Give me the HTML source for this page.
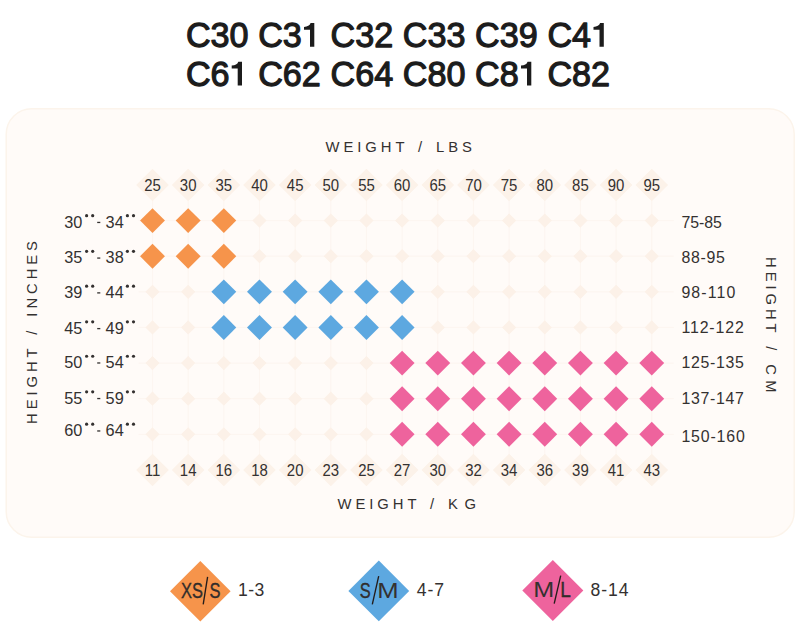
<!DOCTYPE html>
<html><head><meta charset="utf-8"><title>Size chart</title>
<style>
html,body{margin:0;padding:0;background:#fff;}
body{width:800px;height:622px;overflow:hidden;font-family:"Liberation Sans",sans-serif;}
svg{display:block;}
text{font-family:"Liberation Sans",sans-serif;fill:#343130;}
.t{font-size:35.5px;fill:#1c1c1c;stroke:#1c1c1c;stroke-width:1.25px;stroke-linejoin:round;}
.ax{font-size:14.8px;letter-spacing:3.95px;word-spacing:1.9px;}
.cn{font-size:16.8px;text-anchor:middle;}
.rl{font-size:16.3px;}
.rr{font-size:17.1px;}
.lg2{font-size:22.3px;stroke:#241c1a;stroke-width:0.25px;}
.ln{font-size:17.6px;letter-spacing:0.4px;}
</style></head><body>
<svg width="800" height="622" viewBox="0 0 800 622">
<text class="t" transform="translate(185.90,47.3) scale(0.962,1)">C30</text>
<text class="t" transform="translate(258.20,47.3) scale(0.962,1)">C3</text>
<path fill="#1c1c1c" d="M314.30 23.10V46.70H310.00V29.80H304.00V27.00Q309.30 26.80 310.60 23.10Z"/>
<text class="t" transform="translate(330.50,47.3) scale(0.962,1)">C32</text>
<text class="t" transform="translate(402.80,47.3) scale(0.962,1)">C33</text>
<text class="t" transform="translate(475.10,47.3) scale(0.962,1)">C39</text>
<text class="t" transform="translate(547.40,47.3) scale(0.962,1)">C4</text>
<path fill="#1c1c1c" d="M603.80 23.10V46.70H599.50V29.80H593.50V27.00Q598.80 26.80 600.10 23.10Z"/>
<text class="t" transform="translate(185.90,85.8) scale(0.962,1)">C6</text>
<path fill="#1c1c1c" d="M242.00 61.70V85.50H237.70V68.40H231.70V65.60Q237.00 65.40 238.30 61.70Z"/>
<text class="t" transform="translate(258.20,85.8) scale(0.962,1)">C62</text>
<text class="t" transform="translate(330.50,85.8) scale(0.962,1)">C64</text>
<text class="t" transform="translate(402.80,85.8) scale(0.962,1)">C80</text>
<text class="t" transform="translate(475.10,85.8) scale(0.962,1)">C8</text>
<path fill="#1c1c1c" d="M531.30 61.70V85.50H527.00V68.40H521.00V65.60Q526.30 65.40 527.60 61.70Z"/>
<text class="t" transform="translate(547.40,85.8) scale(0.962,1)">C82</text>
<rect x="6.2" y="108.8" width="788" height="428.4" rx="25.5" ry="25.5" fill="#fffbf8" stroke="#fcf4eb" stroke-width="1.5"/>
<defs><filter id="bl" x="-5%" y="-5%" width="110%" height="110%"><feGaussianBlur stdDeviation="0.7"/></filter></defs><g filter="url(#bl)">
<path d="M138.50 220.60H673.74M138.50 256.22H673.74M138.50 291.84H673.74M138.50 327.46H673.74M138.50 363.08H673.74M138.50 398.70H673.74M138.50 434.32H673.74M152.50 184.98V469.94M188.16 184.98V469.94M223.82 184.98V469.94M259.48 184.98V469.94M295.14 184.98V469.94M330.80 184.98V469.94M366.46 184.98V469.94M402.12 184.98V469.94M437.78 184.98V469.94M473.44 184.98V469.94M509.10 184.98V469.94M544.76 184.98V469.94M580.42 184.98V469.94M616.08 184.98V469.94M651.74 184.98V469.94" stroke="#fdf6f1" stroke-width="1.2" fill="none"/>
<path d="M152.50 168.68L168.80 184.98L152.50 201.28L136.20 184.98Z" fill="#fcf2e9"/>
<path d="M152.50 453.64L168.80 469.94L152.50 486.24L136.20 469.94Z" fill="#fcf2e9"/>
<path d="M188.16 168.68L204.46 184.98L188.16 201.28L171.86 184.98Z" fill="#fcf2e9"/>
<path d="M188.16 453.64L204.46 469.94L188.16 486.24L171.86 469.94Z" fill="#fcf2e9"/>
<path d="M223.82 168.68L240.12 184.98L223.82 201.28L207.52 184.98Z" fill="#fcf2e9"/>
<path d="M223.82 453.64L240.12 469.94L223.82 486.24L207.52 469.94Z" fill="#fcf2e9"/>
<path d="M259.48 168.68L275.78 184.98L259.48 201.28L243.18 184.98Z" fill="#fcf2e9"/>
<path d="M259.48 453.64L275.78 469.94L259.48 486.24L243.18 469.94Z" fill="#fcf2e9"/>
<path d="M295.14 168.68L311.44 184.98L295.14 201.28L278.84 184.98Z" fill="#fcf2e9"/>
<path d="M295.14 453.64L311.44 469.94L295.14 486.24L278.84 469.94Z" fill="#fcf2e9"/>
<path d="M330.80 168.68L347.10 184.98L330.80 201.28L314.50 184.98Z" fill="#fcf2e9"/>
<path d="M330.80 453.64L347.10 469.94L330.80 486.24L314.50 469.94Z" fill="#fcf2e9"/>
<path d="M366.46 168.68L382.76 184.98L366.46 201.28L350.16 184.98Z" fill="#fcf2e9"/>
<path d="M366.46 453.64L382.76 469.94L366.46 486.24L350.16 469.94Z" fill="#fcf2e9"/>
<path d="M402.12 168.68L418.42 184.98L402.12 201.28L385.82 184.98Z" fill="#fcf2e9"/>
<path d="M402.12 453.64L418.42 469.94L402.12 486.24L385.82 469.94Z" fill="#fcf2e9"/>
<path d="M437.78 168.68L454.08 184.98L437.78 201.28L421.48 184.98Z" fill="#fcf2e9"/>
<path d="M437.78 453.64L454.08 469.94L437.78 486.24L421.48 469.94Z" fill="#fcf2e9"/>
<path d="M473.44 168.68L489.74 184.98L473.44 201.28L457.14 184.98Z" fill="#fcf2e9"/>
<path d="M473.44 453.64L489.74 469.94L473.44 486.24L457.14 469.94Z" fill="#fcf2e9"/>
<path d="M509.10 168.68L525.40 184.98L509.10 201.28L492.80 184.98Z" fill="#fcf2e9"/>
<path d="M509.10 453.64L525.40 469.94L509.10 486.24L492.80 469.94Z" fill="#fcf2e9"/>
<path d="M544.76 168.68L561.06 184.98L544.76 201.28L528.46 184.98Z" fill="#fcf2e9"/>
<path d="M544.76 453.64L561.06 469.94L544.76 486.24L528.46 469.94Z" fill="#fcf2e9"/>
<path d="M580.42 168.68L596.72 184.98L580.42 201.28L564.12 184.98Z" fill="#fcf2e9"/>
<path d="M580.42 453.64L596.72 469.94L580.42 486.24L564.12 469.94Z" fill="#fcf2e9"/>
<path d="M616.08 168.68L632.38 184.98L616.08 201.28L599.78 184.98Z" fill="#fcf2e9"/>
<path d="M616.08 453.64L632.38 469.94L616.08 486.24L599.78 469.94Z" fill="#fcf2e9"/>
<path d="M651.74 168.68L668.04 184.98L651.74 201.28L635.44 184.98Z" fill="#fcf2e9"/>
<path d="M651.74 453.64L668.04 469.94L651.74 486.24L635.44 469.94Z" fill="#fcf2e9"/>
<path d="M259.48 213.50L266.58 220.60L259.48 227.70L252.38 220.60Z" fill="#fcf1e8"/>
<path d="M295.14 213.50L302.24 220.60L295.14 227.70L288.04 220.60Z" fill="#fcf1e8"/>
<path d="M330.80 213.50L337.90 220.60L330.80 227.70L323.70 220.60Z" fill="#fcf1e8"/>
<path d="M366.46 213.50L373.56 220.60L366.46 227.70L359.36 220.60Z" fill="#fcf1e8"/>
<path d="M402.12 213.50L409.22 220.60L402.12 227.70L395.02 220.60Z" fill="#fcf1e8"/>
<path d="M437.78 213.50L444.88 220.60L437.78 227.70L430.68 220.60Z" fill="#fcf1e8"/>
<path d="M473.44 213.50L480.54 220.60L473.44 227.70L466.34 220.60Z" fill="#fcf1e8"/>
<path d="M509.10 213.50L516.20 220.60L509.10 227.70L502.00 220.60Z" fill="#fcf1e8"/>
<path d="M544.76 213.50L551.86 220.60L544.76 227.70L537.66 220.60Z" fill="#fcf1e8"/>
<path d="M580.42 213.50L587.52 220.60L580.42 227.70L573.32 220.60Z" fill="#fcf1e8"/>
<path d="M616.08 213.50L623.18 220.60L616.08 227.70L608.98 220.60Z" fill="#fcf1e8"/>
<path d="M651.74 213.50L658.84 220.60L651.74 227.70L644.64 220.60Z" fill="#fcf1e8"/>
<path d="M259.48 249.12L266.58 256.22L259.48 263.32L252.38 256.22Z" fill="#fcf1e8"/>
<path d="M295.14 249.12L302.24 256.22L295.14 263.32L288.04 256.22Z" fill="#fcf1e8"/>
<path d="M330.80 249.12L337.90 256.22L330.80 263.32L323.70 256.22Z" fill="#fcf1e8"/>
<path d="M366.46 249.12L373.56 256.22L366.46 263.32L359.36 256.22Z" fill="#fcf1e8"/>
<path d="M402.12 249.12L409.22 256.22L402.12 263.32L395.02 256.22Z" fill="#fcf1e8"/>
<path d="M437.78 249.12L444.88 256.22L437.78 263.32L430.68 256.22Z" fill="#fcf1e8"/>
<path d="M473.44 249.12L480.54 256.22L473.44 263.32L466.34 256.22Z" fill="#fcf1e8"/>
<path d="M509.10 249.12L516.20 256.22L509.10 263.32L502.00 256.22Z" fill="#fcf1e8"/>
<path d="M544.76 249.12L551.86 256.22L544.76 263.32L537.66 256.22Z" fill="#fcf1e8"/>
<path d="M580.42 249.12L587.52 256.22L580.42 263.32L573.32 256.22Z" fill="#fcf1e8"/>
<path d="M616.08 249.12L623.18 256.22L616.08 263.32L608.98 256.22Z" fill="#fcf1e8"/>
<path d="M651.74 249.12L658.84 256.22L651.74 263.32L644.64 256.22Z" fill="#fcf1e8"/>
<path d="M152.50 284.74L159.60 291.84L152.50 298.94L145.40 291.84Z" fill="#fcf1e8"/>
<path d="M188.16 284.74L195.26 291.84L188.16 298.94L181.06 291.84Z" fill="#fcf1e8"/>
<path d="M437.78 284.74L444.88 291.84L437.78 298.94L430.68 291.84Z" fill="#fcf1e8"/>
<path d="M473.44 284.74L480.54 291.84L473.44 298.94L466.34 291.84Z" fill="#fcf1e8"/>
<path d="M509.10 284.74L516.20 291.84L509.10 298.94L502.00 291.84Z" fill="#fcf1e8"/>
<path d="M544.76 284.74L551.86 291.84L544.76 298.94L537.66 291.84Z" fill="#fcf1e8"/>
<path d="M580.42 284.74L587.52 291.84L580.42 298.94L573.32 291.84Z" fill="#fcf1e8"/>
<path d="M616.08 284.74L623.18 291.84L616.08 298.94L608.98 291.84Z" fill="#fcf1e8"/>
<path d="M651.74 284.74L658.84 291.84L651.74 298.94L644.64 291.84Z" fill="#fcf1e8"/>
<path d="M152.50 320.36L159.60 327.46L152.50 334.56L145.40 327.46Z" fill="#fcf1e8"/>
<path d="M188.16 320.36L195.26 327.46L188.16 334.56L181.06 327.46Z" fill="#fcf1e8"/>
<path d="M437.78 320.36L444.88 327.46L437.78 334.56L430.68 327.46Z" fill="#fcf1e8"/>
<path d="M473.44 320.36L480.54 327.46L473.44 334.56L466.34 327.46Z" fill="#fcf1e8"/>
<path d="M509.10 320.36L516.20 327.46L509.10 334.56L502.00 327.46Z" fill="#fcf1e8"/>
<path d="M544.76 320.36L551.86 327.46L544.76 334.56L537.66 327.46Z" fill="#fcf1e8"/>
<path d="M580.42 320.36L587.52 327.46L580.42 334.56L573.32 327.46Z" fill="#fcf1e8"/>
<path d="M616.08 320.36L623.18 327.46L616.08 334.56L608.98 327.46Z" fill="#fcf1e8"/>
<path d="M651.74 320.36L658.84 327.46L651.74 334.56L644.64 327.46Z" fill="#fcf1e8"/>
<path d="M152.50 355.98L159.60 363.08L152.50 370.18L145.40 363.08Z" fill="#fcf1e8"/>
<path d="M188.16 355.98L195.26 363.08L188.16 370.18L181.06 363.08Z" fill="#fcf1e8"/>
<path d="M223.82 355.98L230.92 363.08L223.82 370.18L216.72 363.08Z" fill="#fcf1e8"/>
<path d="M259.48 355.98L266.58 363.08L259.48 370.18L252.38 363.08Z" fill="#fcf1e8"/>
<path d="M295.14 355.98L302.24 363.08L295.14 370.18L288.04 363.08Z" fill="#fcf1e8"/>
<path d="M330.80 355.98L337.90 363.08L330.80 370.18L323.70 363.08Z" fill="#fcf1e8"/>
<path d="M366.46 355.98L373.56 363.08L366.46 370.18L359.36 363.08Z" fill="#fcf1e8"/>
<path d="M152.50 391.60L159.60 398.70L152.50 405.80L145.40 398.70Z" fill="#fcf1e8"/>
<path d="M188.16 391.60L195.26 398.70L188.16 405.80L181.06 398.70Z" fill="#fcf1e8"/>
<path d="M223.82 391.60L230.92 398.70L223.82 405.80L216.72 398.70Z" fill="#fcf1e8"/>
<path d="M259.48 391.60L266.58 398.70L259.48 405.80L252.38 398.70Z" fill="#fcf1e8"/>
<path d="M295.14 391.60L302.24 398.70L295.14 405.80L288.04 398.70Z" fill="#fcf1e8"/>
<path d="M330.80 391.60L337.90 398.70L330.80 405.80L323.70 398.70Z" fill="#fcf1e8"/>
<path d="M366.46 391.60L373.56 398.70L366.46 405.80L359.36 398.70Z" fill="#fcf1e8"/>
<path d="M152.50 427.22L159.60 434.32L152.50 441.42L145.40 434.32Z" fill="#fcf1e8"/>
<path d="M188.16 427.22L195.26 434.32L188.16 441.42L181.06 434.32Z" fill="#fcf1e8"/>
<path d="M223.82 427.22L230.92 434.32L223.82 441.42L216.72 434.32Z" fill="#fcf1e8"/>
<path d="M259.48 427.22L266.58 434.32L259.48 441.42L252.38 434.32Z" fill="#fcf1e8"/>
<path d="M295.14 427.22L302.24 434.32L295.14 441.42L288.04 434.32Z" fill="#fcf1e8"/>
<path d="M330.80 427.22L337.90 434.32L330.80 441.42L323.70 434.32Z" fill="#fcf1e8"/>
<path d="M366.46 427.22L373.56 434.32L366.46 441.42L359.36 434.32Z" fill="#fcf1e8"/>
</g>
<path d="M152.50 208.15L164.95 220.60L152.50 233.05L140.05 220.60Z" fill="#f6944b"/>
<path d="M188.16 208.15L200.61 220.60L188.16 233.05L175.71 220.60Z" fill="#f6944b"/>
<path d="M223.82 208.15L236.27 220.60L223.82 233.05L211.37 220.60Z" fill="#f6944b"/>
<path d="M152.50 243.77L164.95 256.22L152.50 268.67L140.05 256.22Z" fill="#f6944b"/>
<path d="M188.16 243.77L200.61 256.22L188.16 268.67L175.71 256.22Z" fill="#f6944b"/>
<path d="M223.82 243.77L236.27 256.22L223.82 268.67L211.37 256.22Z" fill="#f6944b"/>
<path d="M223.82 279.39L236.27 291.84L223.82 304.29L211.37 291.84Z" fill="#5da8e0"/>
<path d="M259.48 279.39L271.93 291.84L259.48 304.29L247.03 291.84Z" fill="#5da8e0"/>
<path d="M295.14 279.39L307.59 291.84L295.14 304.29L282.69 291.84Z" fill="#5da8e0"/>
<path d="M330.80 279.39L343.25 291.84L330.80 304.29L318.35 291.84Z" fill="#5da8e0"/>
<path d="M366.46 279.39L378.91 291.84L366.46 304.29L354.01 291.84Z" fill="#5da8e0"/>
<path d="M402.12 279.39L414.57 291.84L402.12 304.29L389.67 291.84Z" fill="#5da8e0"/>
<path d="M223.82 315.01L236.27 327.46L223.82 339.91L211.37 327.46Z" fill="#5da8e0"/>
<path d="M259.48 315.01L271.93 327.46L259.48 339.91L247.03 327.46Z" fill="#5da8e0"/>
<path d="M295.14 315.01L307.59 327.46L295.14 339.91L282.69 327.46Z" fill="#5da8e0"/>
<path d="M330.80 315.01L343.25 327.46L330.80 339.91L318.35 327.46Z" fill="#5da8e0"/>
<path d="M366.46 315.01L378.91 327.46L366.46 339.91L354.01 327.46Z" fill="#5da8e0"/>
<path d="M402.12 315.01L414.57 327.46L402.12 339.91L389.67 327.46Z" fill="#5da8e0"/>
<path d="M402.12 350.63L414.57 363.08L402.12 375.53L389.67 363.08Z" fill="#ee639d"/>
<path d="M437.78 350.63L450.23 363.08L437.78 375.53L425.33 363.08Z" fill="#ee639d"/>
<path d="M473.44 350.63L485.89 363.08L473.44 375.53L460.99 363.08Z" fill="#ee639d"/>
<path d="M509.10 350.63L521.55 363.08L509.10 375.53L496.65 363.08Z" fill="#ee639d"/>
<path d="M544.76 350.63L557.21 363.08L544.76 375.53L532.31 363.08Z" fill="#ee639d"/>
<path d="M580.42 350.63L592.87 363.08L580.42 375.53L567.97 363.08Z" fill="#ee639d"/>
<path d="M616.08 350.63L628.53 363.08L616.08 375.53L603.63 363.08Z" fill="#ee639d"/>
<path d="M651.74 350.63L664.19 363.08L651.74 375.53L639.29 363.08Z" fill="#ee639d"/>
<path d="M402.12 386.25L414.57 398.70L402.12 411.15L389.67 398.70Z" fill="#ee639d"/>
<path d="M437.78 386.25L450.23 398.70L437.78 411.15L425.33 398.70Z" fill="#ee639d"/>
<path d="M473.44 386.25L485.89 398.70L473.44 411.15L460.99 398.70Z" fill="#ee639d"/>
<path d="M509.10 386.25L521.55 398.70L509.10 411.15L496.65 398.70Z" fill="#ee639d"/>
<path d="M544.76 386.25L557.21 398.70L544.76 411.15L532.31 398.70Z" fill="#ee639d"/>
<path d="M580.42 386.25L592.87 398.70L580.42 411.15L567.97 398.70Z" fill="#ee639d"/>
<path d="M616.08 386.25L628.53 398.70L616.08 411.15L603.63 398.70Z" fill="#ee639d"/>
<path d="M651.74 386.25L664.19 398.70L651.74 411.15L639.29 398.70Z" fill="#ee639d"/>
<path d="M402.12 421.87L414.57 434.32L402.12 446.77L389.67 434.32Z" fill="#ee639d"/>
<path d="M437.78 421.87L450.23 434.32L437.78 446.77L425.33 434.32Z" fill="#ee639d"/>
<path d="M473.44 421.87L485.89 434.32L473.44 446.77L460.99 434.32Z" fill="#ee639d"/>
<path d="M509.10 421.87L521.55 434.32L509.10 446.77L496.65 434.32Z" fill="#ee639d"/>
<path d="M544.76 421.87L557.21 434.32L544.76 446.77L532.31 434.32Z" fill="#ee639d"/>
<path d="M580.42 421.87L592.87 434.32L580.42 446.77L567.97 434.32Z" fill="#ee639d"/>
<path d="M616.08 421.87L628.53 434.32L616.08 446.77L603.63 434.32Z" fill="#ee639d"/>
<path d="M651.74 421.87L664.19 434.32L651.74 446.77L639.29 434.32Z" fill="#ee639d"/>
<text class="cn" transform="translate(152.50,190.98) scale(0.89,1)">25</text>
<text class="cn" transform="translate(152.50,475.94) scale(0.89,1)">11</text>
<text class="cn" transform="translate(188.16,190.98) scale(0.89,1)">30</text>
<text class="cn" transform="translate(188.16,475.94) scale(0.89,1)">14</text>
<text class="cn" transform="translate(223.82,190.98) scale(0.89,1)">35</text>
<text class="cn" transform="translate(223.82,475.94) scale(0.89,1)">16</text>
<text class="cn" transform="translate(259.48,190.98) scale(0.89,1)">40</text>
<text class="cn" transform="translate(259.48,475.94) scale(0.89,1)">18</text>
<text class="cn" transform="translate(295.14,190.98) scale(0.89,1)">45</text>
<text class="cn" transform="translate(295.14,475.94) scale(0.89,1)">20</text>
<text class="cn" transform="translate(330.80,190.98) scale(0.89,1)">50</text>
<text class="cn" transform="translate(330.80,475.94) scale(0.89,1)">23</text>
<text class="cn" transform="translate(366.46,190.98) scale(0.89,1)">55</text>
<text class="cn" transform="translate(366.46,475.94) scale(0.89,1)">25</text>
<text class="cn" transform="translate(402.12,190.98) scale(0.89,1)">60</text>
<text class="cn" transform="translate(402.12,475.94) scale(0.89,1)">27</text>
<text class="cn" transform="translate(437.78,190.98) scale(0.89,1)">65</text>
<text class="cn" transform="translate(437.78,475.94) scale(0.89,1)">30</text>
<text class="cn" transform="translate(473.44,190.98) scale(0.89,1)">70</text>
<text class="cn" transform="translate(473.44,475.94) scale(0.89,1)">32</text>
<text class="cn" transform="translate(509.10,190.98) scale(0.89,1)">75</text>
<text class="cn" transform="translate(509.10,475.94) scale(0.89,1)">34</text>
<text class="cn" transform="translate(544.76,190.98) scale(0.89,1)">80</text>
<text class="cn" transform="translate(544.76,475.94) scale(0.89,1)">36</text>
<text class="cn" transform="translate(580.42,190.98) scale(0.89,1)">85</text>
<text class="cn" transform="translate(580.42,475.94) scale(0.89,1)">39</text>
<text class="cn" transform="translate(616.08,190.98) scale(0.89,1)">90</text>
<text class="cn" transform="translate(616.08,475.94) scale(0.89,1)">41</text>
<text class="cn" transform="translate(651.74,190.98) scale(0.89,1)">95</text>
<text class="cn" transform="translate(651.74,475.94) scale(0.89,1)">43</text>
<text class="rl" x="64.2" y="227.80">30</text>
<circle cx="86.6" cy="215.70" r="1.6" fill="#343130"/><circle cx="92.7" cy="215.70" r="1.6" fill="#343130"/>
<rect x="97.2" y="221.80" width="3.1" height="1.3" fill="#343130"/>
<text class="rl" x="105.6" y="227.80">34</text>
<circle cx="127.4" cy="215.70" r="1.6" fill="#343130"/><circle cx="133.5" cy="215.70" r="1.6" fill="#343130"/>
<text class="rr" transform="translate(681.4,228.30) scale(0.93,1)" textLength="43.5" lengthAdjust="spacing">75-85</text>
<text class="rl" x="64.2" y="263.42">35</text>
<circle cx="86.6" cy="251.32" r="1.6" fill="#343130"/><circle cx="92.7" cy="251.32" r="1.6" fill="#343130"/>
<rect x="97.2" y="257.42" width="3.1" height="1.3" fill="#343130"/>
<text class="rl" x="105.6" y="263.42">38</text>
<circle cx="127.4" cy="251.32" r="1.6" fill="#343130"/><circle cx="133.5" cy="251.32" r="1.6" fill="#343130"/>
<text class="rr" transform="translate(681.4,263.12) scale(0.93,1)" textLength="46.7" lengthAdjust="spacing">88-95</text>
<text class="rl" x="64.2" y="298.24">39</text>
<circle cx="86.6" cy="286.14" r="1.6" fill="#343130"/><circle cx="92.7" cy="286.14" r="1.6" fill="#343130"/>
<rect x="97.2" y="292.24" width="3.1" height="1.3" fill="#343130"/>
<text class="rl" x="105.6" y="298.24">44</text>
<circle cx="127.4" cy="286.14" r="1.6" fill="#343130"/><circle cx="133.5" cy="286.14" r="1.6" fill="#343130"/>
<text class="rr" transform="translate(681.4,298.34) scale(0.93,1)" textLength="58.0" lengthAdjust="spacing">98-110</text>
<text class="rl" x="64.2" y="333.96">45</text>
<circle cx="86.6" cy="321.86" r="1.6" fill="#343130"/><circle cx="92.7" cy="321.86" r="1.6" fill="#343130"/>
<rect x="97.2" y="327.96" width="3.1" height="1.3" fill="#343130"/>
<text class="rl" x="105.6" y="333.96">49</text>
<circle cx="127.4" cy="321.86" r="1.6" fill="#343130"/><circle cx="133.5" cy="321.86" r="1.6" fill="#343130"/>
<text class="rr" transform="translate(681.4,332.76) scale(0.93,1)" textLength="67.1" lengthAdjust="spacing">112-122</text>
<text class="rl" x="64.2" y="368.33">50</text>
<circle cx="86.6" cy="356.23" r="1.6" fill="#343130"/><circle cx="92.7" cy="356.23" r="1.6" fill="#343130"/>
<rect x="97.2" y="362.33" width="3.1" height="1.3" fill="#343130"/>
<text class="rl" x="105.6" y="368.33">54</text>
<circle cx="127.4" cy="356.23" r="1.6" fill="#343130"/><circle cx="133.5" cy="356.23" r="1.6" fill="#343130"/>
<text class="rr" transform="translate(681.4,368.38) scale(0.93,1)" textLength="67.1" lengthAdjust="spacing">125-135</text>
<text class="rl" x="64.2" y="403.90">55</text>
<circle cx="86.6" cy="391.80" r="1.6" fill="#343130"/><circle cx="92.7" cy="391.80" r="1.6" fill="#343130"/>
<rect x="97.2" y="397.90" width="3.1" height="1.3" fill="#343130"/>
<text class="rl" x="105.6" y="403.90">59</text>
<circle cx="127.4" cy="391.80" r="1.6" fill="#343130"/><circle cx="133.5" cy="391.80" r="1.6" fill="#343130"/>
<text class="rr" transform="translate(681.4,404.00) scale(0.93,1)" textLength="67.1" lengthAdjust="spacing">137-147</text>
<text class="rl" x="64.2" y="436.32">60</text>
<circle cx="86.6" cy="424.22" r="1.6" fill="#343130"/><circle cx="92.7" cy="424.22" r="1.6" fill="#343130"/>
<rect x="97.2" y="430.32" width="3.1" height="1.3" fill="#343130"/>
<text class="rl" x="105.6" y="436.32">64</text>
<circle cx="127.4" cy="424.22" r="1.6" fill="#343130"/><circle cx="133.5" cy="424.22" r="1.6" fill="#343130"/>
<text class="rr" transform="translate(681.4,442.02) scale(0.93,1)" textLength="68.2" lengthAdjust="spacing">150-160</text>
<text class="ax" x="325.5" y="152.4">WEIGHT / LBS</text>
<text class="ax" x="337.5" y="509">WEIGHT / <tspan style="letter-spacing:6.5px">KG</tspan></text>
<text class="ax" transform="translate(37.0,424) rotate(-90)">HEIGHT / INCHES</text>
<text class="ax" transform="translate(766,257) rotate(90)">HEIGHT / <tspan style="letter-spacing:5.2px">CM</tspan></text>
<path d="M200.30 560.90L230.60 591.20L200.30 621.50L170.00 591.20Z" fill="#f6944b"/>
<text class="lg2" transform="translate(181.0,597.5) scale(0.74,1)" fill="#241c1a" style="stroke-width:0.3px">XS</text>
<path d="M207.6 576.8L203.2 604.4" stroke="#241c1a" stroke-width="1.35" fill="none"/>
<text class="lg2" transform="translate(209.6,597.5) scale(0.74,1)" fill="#241c1a" style="stroke-width:0.3px">S</text>
<path d="M378.80 560.50L409.20 590.90L378.80 621.30L348.40 590.90Z" fill="#5da8e0"/>
<text class="lg2" transform="translate(359.8,597.5) scale(0.74,1)" fill="#241c1a" style="stroke-width:0.3px">S</text>
<path d="M378.7 576.2L372.3 604.4" stroke="#241c1a" stroke-width="1.35" fill="none"/>
<text class="lg2" transform="translate(377.2,597.5) scale(1.15,1)" fill="#241c1a" style="stroke-width:0px">M</text>
<path d="M552.80 560.10L583.30 590.60L552.80 621.10L522.30 590.60Z" fill="#ee639d"/>
<text class="lg2" transform="translate(533.2,597.0) scale(1.13,1)" fill="#241c1a" style="stroke-width:0px">M</text>
<path d="M560.7 575.7L554.2 603.7" stroke="#241c1a" stroke-width="1.35" fill="none"/>
<text class="lg2" transform="translate(560.2,597.0) scale(0.86,1)" fill="#241c1a" style="stroke-width:0.3px">L</text>
<text class="ln" x="238.0" y="595.6" style="letter-spacing:0.4px">1-3</text>
<text class="ln" x="416.8" y="595.6" style="letter-spacing:0.9px">4-7</text>
<text class="ln" x="590.4" y="595.6" style="letter-spacing:0.95px">8-14</text>
</svg></body></html>
